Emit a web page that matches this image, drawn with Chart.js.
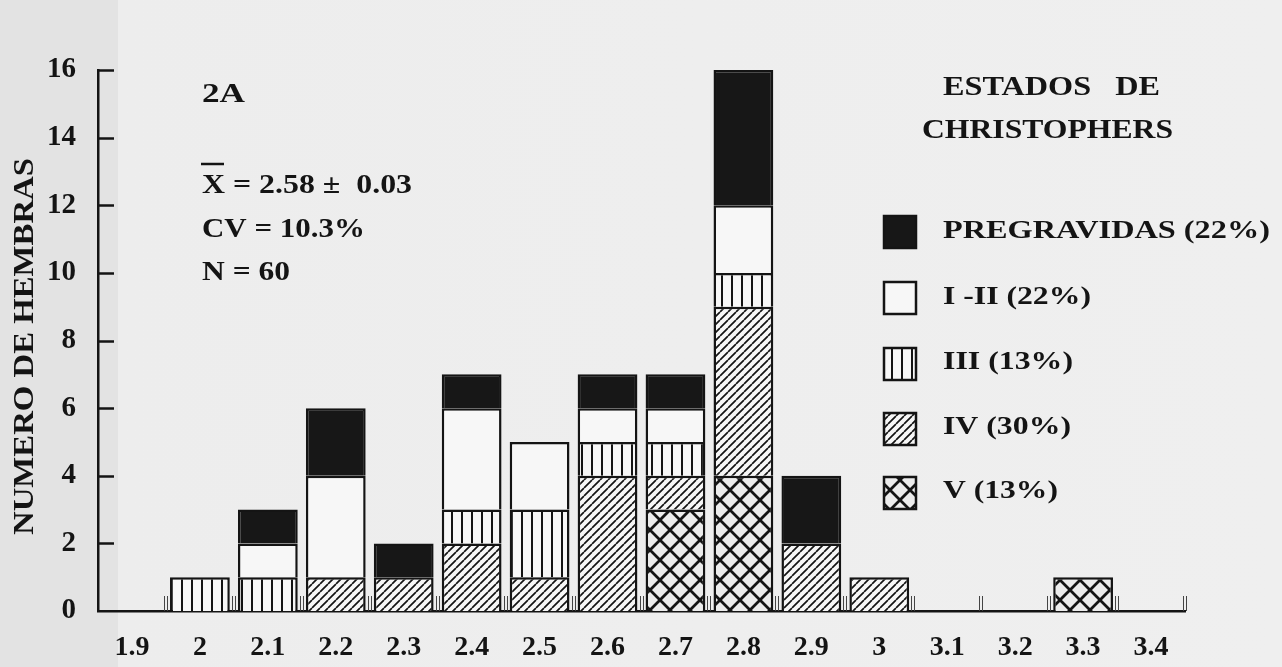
<!DOCTYPE html>
<html>
<head>
<meta charset="utf-8">
<title>Numero de hembras por clase de longitud</title>
<script src="https://cdn.jsdelivr.net/npm/chart.js@4.4.1/dist/chart.umd.min.js"></script>
<style>
  html, body { margin: 0; padding: 0; background: #ececec; }
  #wrap {
    position: relative; width: 1282px; height: 667px;
    background: linear-gradient(to right, #e3e3e3 0, #e3e3e3 118px, #ededed 118px, #efefef 100%);
  }
  canvas { display: block; }
  .fontprobe { position: absolute; left: -9999px; top: 0; font: bold 20px "Liberation Serif"; }
</style>
</head>
<body>
<div id="wrap"><canvas id="chart" width="1282" height="667"></canvas></div>
<span class="fontprobe">NUMERO 0123</span>
<script>
// Length classes (x axis) and the number of females in each maturity stage
const lengthClasses = ['1.9', '2', '2.1', '2.2', '2.3', '2.4', '2.5', '2.6', '2.7', '2.8', '2.9', '3', '3.1', '3.2', '3.3', '3.4'];
const stageV       = [0, 0, 0, 0, 0, 0, 0, 0, 3, 4, 0, 0, 0, 0, 1, 0];
const stageIV      = [0, 0, 0, 1, 1, 2, 1, 4, 1, 5, 2, 1, 0, 0, 0, 0];
const stageIII     = [0, 1, 1, 0, 0, 1, 2, 1, 1, 1, 0, 0, 0, 0, 0, 0];
const stageI_II    = [0, 0, 1, 3, 0, 3, 2, 1, 1, 2, 0, 0, 0, 0, 0, 0];
const stagePregrav = [0, 0, 1, 2, 1, 1, 0, 1, 1, 4, 2, 0, 0, 0, 0, 0];

const yTickValues = [0, 2, 4, 6, 8, 10, 12, 14, 16];
const legendTitle = ['ESTADOS   DE', 'CHRISTOPHERS'];
const legendLabels = ['PREGRAVIDAS (22%)', 'I -II (22%)', 'III (13%)', 'IV (30%)', 'V (13%)'];
const panelLabel = '2A';
const meanLine = 'X = 2.58 \u00B1  0.03';
const cvLine = 'CV = 10.3%';
const nLine = 'N = 60';
const yTitle = 'NUMERO DE HEMBRAS';

const SERIF = '"Liberation Serif", "Times New Roman", Times, serif';
const INK = '#141414';
const PAPER = '#f7f7f7';

const canvas = document.getElementById('chart');
const ctx2d = canvas.getContext('2d');

// Hatch fills for the stages
function makePattern(kind) {
  const c = document.createElement('canvas');
  const g = c.getContext('2d');
  if (kind === 'vertical') {
    c.width = 10; c.height = 10;
    g.fillStyle = PAPER; g.fillRect(0, 0, 10, 10);
    g.fillStyle = INK; g.fillRect(1, 0, 2, 10);
  } else if (kind === 'diagonal') {
    const s = 8;
    c.width = s; c.height = s;
    g.fillStyle = PAPER; g.fillRect(0, 0, s, s);
    g.strokeStyle = INK; g.lineWidth = 1.7;
    g.beginPath();
    for (let k = -1; k <= 1; k++) { g.moveTo(k * s, s); g.lineTo(k * s + s, 0); }
    g.stroke();
  } else if (kind === 'cross') {
    const s = 20;
    c.width = s; c.height = s;
    g.fillStyle = '#ececec'; g.fillRect(0, 0, s, s);
    g.strokeStyle = INK; g.lineWidth = 2.8;
    g.beginPath();
    for (let k = -1; k <= 1; k++) {
      g.moveTo(k * s, 0); g.lineTo(k * s + s, s);
      g.moveTo(k * s, s); g.lineTo(k * s + s, 0);
    }
    g.stroke();
  }
  return ctx2d.createPattern(c, 'repeat');
}

const fills = {
  V: makePattern('cross'),
  IV: makePattern('diagonal'),
  III: makePattern('vertical'),
  I_II: PAPER,
  PREG: '#171717'
};

const nz = arr => arr.map(v => (v === 0 ? null : v));

function stageDataset(label, data, fill) {
  return {
    label: label,
    data: nz(data),
    backgroundColor: fill,
    borderColor: INK,
    borderWidth: 2.5,
    borderSkipped: 'start',
    barPercentage: 0.88,
    categoryPercentage: 1.0,
    stack: 'stages'
  };
}

// Drawn bottom to top: V, IV, III, I-II, pregravidas
const datasets = [
  stageDataset(legendLabels[4], stageV, fills.V),
  stageDataset(legendLabels[3], stageIV, fills.IV),
  stageDataset(legendLabels[2], stageIII, fills.III),
  stageDataset(legendLabels[1], stageI_II, fills.I_II),
  stageDataset(legendLabels[0], stagePregrav, fills.PREG)
];

// Bold serif text, widened horizontally to a given ink width
function stretchText(ctx, txt, x, y, size, width) {
  ctx.save();
  ctx.font = 'bold ' + size + 'px ' + SERIF;
  ctx.fillStyle = INK;
  ctx.textBaseline = 'alphabetic';
  ctx.textAlign = 'left';
  const w = ctx.measureText(txt).width;
  const sx = width ? width / w : 1;
  ctx.translate(x, y);
  ctx.scale(sx, 1);
  ctx.fillText(txt, 0, 0);
  ctx.restore();
  return sx;
}

const figureDecor = {
  id: 'figureDecor',
  afterDraw(chart) {
    const ctx = chart.ctx;
    const area = chart.chartArea;
    const xs = chart.scales.x;
    const ys = chart.scales.y;

    // inward ticks on the count axis
    ctx.save();
    ctx.strokeStyle = INK;
    ctx.lineWidth = 2.5;
    yTickValues.forEach(v => {
      if (v === 0) return;
      const y = Math.round(ys.getPixelForValue(v)) + 0.5;
      ctx.beginPath();
      ctx.moveTo(area.left, y);
      ctx.lineTo(area.left + 16, y);
      ctx.stroke();
    });

    // short marks between length classes
    const step = xs.getPixelForValue(1) - xs.getPixelForValue(0);
    ctx.strokeStyle = '#444';
    ctx.lineWidth = 1;
    for (let i = 1; i <= lengthClasses.length; i++) {
      const x = Math.round(xs.getPixelForValue(i) - step / 2);
      [x - 1.5, x + 1.5].forEach(px => {
        ctx.beginPath();
        ctx.moveTo(px, area.bottom);
        ctx.lineTo(px, area.bottom - 15);
        ctx.stroke();
      });
    }
    ctx.restore();

    // panel label and summary statistics
    stretchText(ctx, panelLabel, 202, 102, 28, 43);
    const sx = stretchText(ctx, meanLine, 202, 193, 27, 210);
    ctx.save();
    ctx.font = 'bold 27px ' + SERIF;
    const xw = ctx.measureText('X').width * sx;
    ctx.strokeStyle = INK;
    ctx.lineWidth = 2.5;
    ctx.beginPath();
    ctx.moveTo(201, 164);
    ctx.lineTo(201 + xw, 164);
    ctx.stroke();
    ctx.restore();
    stretchText(ctx, cvLine, 202, 237, 27, 163);
    stretchText(ctx, nLine, 202, 280, 27, 88);

    // count axis title
    ctx.save();
    ctx.translate(33, 535);
    ctx.rotate(-Math.PI / 2);
    stretchText(ctx, yTitle, 0, 0, 30, 377);
    ctx.restore();

    // legend
    stretchText(ctx, legendTitle[0], 943, 95, 27, 217);
    stretchText(ctx, legendTitle[1], 922, 138, 27, 251);
    const tops = [216, 282, 348, 413, 477];
    const baselines = [238, 304, 369, 434, 498];
    const widths = [327, 148, 130, 128, 115];
    const ds = chart.data.datasets.slice().reverse();
    ds.forEach((d, i) => {
      ctx.save();
      ctx.fillStyle = d.backgroundColor;
      ctx.fillRect(884, tops[i], 32, 32);
      ctx.strokeStyle = INK;
      ctx.lineWidth = 2.5;
      ctx.strokeRect(884, tops[i], 32, 32);
      ctx.restore();
      stretchText(ctx, d.label, 943, baselines[i], 26, widths[i]);
    });
  }
};

function build() {
  new Chart(canvas, {
    type: 'bar',
    data: { labels: lengthClasses, datasets: datasets },
    options: {
      responsive: false,
      devicePixelRatio: 1,
      animation: false,
      layout: { padding: { top: 70, right: 97, bottom: 0, left: 0 } },
      plugins: { legend: { display: false }, tooltip: { enabled: false } },
      scales: {
        x: {
          stacked: true,
          offset: true,
          grid: { display: false, drawTicks: false },
          border: { display: true, color: INK, width: 2.5 },
          ticks: {
            color: INK,
            autoSkip: false,
            maxRotation: 0,
            padding: 20,
            font: { family: SERIF, size: 28, weight: 'bold' }
          },
          afterFit(scale) { scale.height = 56; }
        },
        y: {
          stacked: true,
          min: 0,
          max: 16,
          grid: { display: false, drawTicks: false },
          border: { display: true, color: INK, width: 2.5 },
          ticks: {
            stepSize: 2,
            color: INK,
            padding: 22,
            font: { family: SERIF, size: 29, weight: 'bold' }
          },
          afterFit(scale) { scale.width = 98; }
        }
      }
    },
    plugins: [figureDecor]
  });
}

if (document.fonts && document.fonts.load) {
  document.fonts.load('bold 28px "Liberation Serif"').then(build, build);
} else {
  build();
}
</script>
</body>
</html>
